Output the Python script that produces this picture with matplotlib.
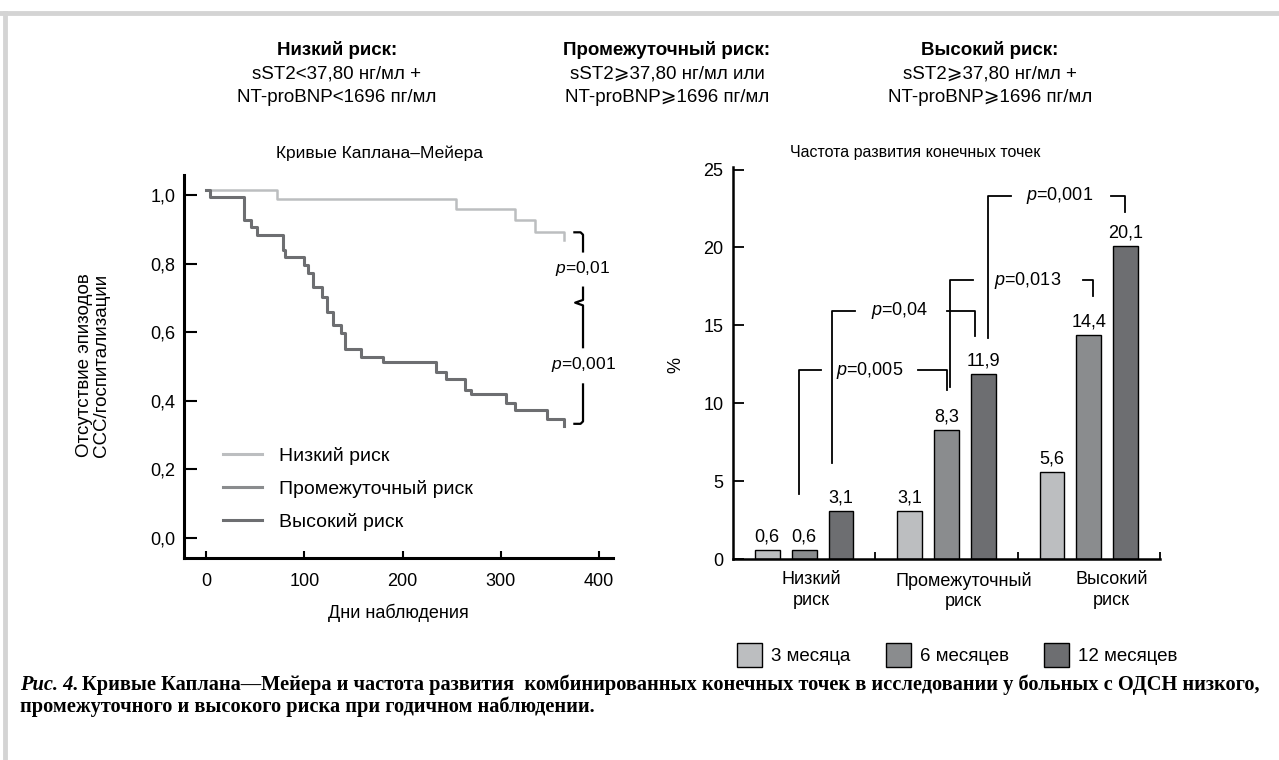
import numpy as np
import matplotlib
matplotlib.use('Agg')
import matplotlib.pyplot as plt
from matplotlib.lines import Line2D

plt.rcParams['font.family'] = ['Liberation Sans', 'DejaVu Sans']
plt.rcParams['mathtext.fontset'] = 'custom'
plt.rcParams['mathtext.it'] = 'Liberation Sans:italic'
plt.rcParams['mathtext.rm'] = 'Liberation Sans'

# Kaplan-Meier curves (days, survival)
low_days = [0, 72, 254, 314, 335, 364]
low_surv = [1.015, 0.988, 0.958, 0.927, 0.893, 0.869]
high_days = [0, 4, 39, 46, 52, 78, 80, 100, 104, 109, 118, 123, 129, 137, 141,
             158, 180, 234, 244, 263, 270, 305, 314, 347, 364]
high_surv = [1.015, 0.995, 0.927, 0.906, 0.882, 0.840, 0.818, 0.796, 0.772,
             0.731, 0.702, 0.658, 0.621, 0.599, 0.551, 0.529, 0.513, 0.483,
             0.464, 0.432, 0.420, 0.393, 0.372, 0.348, 0.327]
km_labels = ['Низкий риск', 'Промежуточный риск', 'Высокий риск']

# endpoint frequency, %
groups = ['Низкий\nриск', 'Промежуточный\nриск', 'Высокий\nриск']
periods = ['3 месяца', '6 месяцев', '12 месяцев']
m3 = [0.6, 3.1, 5.6]
m6 = [0.6, 8.3, 14.4]
m12 = [3.1, 11.9, 20.1]

# p-value brackets on the bar chart
br_text = ['0,005', '0,04', '0,013', '0,001']
br_x0 = [-0.036, 0.197, 1.024, 1.292]
br_y0 = [4.17, 6.14, 11.06, 14.17]
br_top = [12.1, 15.94, 17.9, 23.3]
br_x1 = [1.003, 1.2, 2.027, 2.255]
br_y1 = [10.85, 14.33, 16.88, 22.29]
br_tx = [0.458, 0.675, 1.572, 1.794]
br_g0 = [0.115, 0.36, 1.187, 1.456]
br_g1 = [0.80, 1.0, 1.96, 2.155]

c_low = '#bcbec0'
c_mid = '#8a8c8e'
c_high = '#6d6e71'

W, H = 1279, 760
fig = plt.figure(figsize=(12.79, 7.6), dpi=100)

# page frame
fig.add_artist(Line2D([0, 1], [1 - 13 / H, 1 - 13 / H], color='#d4d4d4', lw=3.5))
fig.add_artist(Line2D([5 / W, 5 / W], [0, 1 - 13 / H], color='#d4d4d4', lw=3.5))

# header
cols = [337, 667, 990]
heads = ['Низкий риск:', 'Промежуточный риск:', 'Высокий риск:']
line2 = ['sST2<37,80 нг/мл +', 'sST2⩾37,80 нг/мл или', 'sST2⩾37,80 нг/мл +']
line3 = ['NT-proBNP<1696 пг/мл', 'NT-proBNP⩾1696 пг/мл', 'NT-proBNP⩾1696 пг/мл']
for cx, a, b, c in zip(cols, heads, line2, line3):
    fig.text(cx / W, 1 - 50 / H, a, ha='center', va='center', fontsize=13.5, fontweight='bold')
    fig.text(cx / W, 1 - 74 / H, b, ha='center', va='center', fontsize=13.5)
    fig.text(cx / W, 1 - 97 / H, c, ha='center', va='center', fontsize=13.5)

# ---- Kaplan-Meier
ax = fig.add_axes([184 / W, (H - 558) / H, 429 / W, 383 / H])
ax.plot(low_days, low_surv, drawstyle='steps-post', color=c_low, lw=1.8)
ax.plot(high_days, high_surv, drawstyle='steps-post', color=c_high, lw=2.2)
ax.set_xlim(-22.4, 414)
ax.set_ylim(-0.058, 1.058)
ax.set_xticks([0, 100, 200, 300, 400])
ax.set_yticks([0, 0.2, 0.4, 0.6, 0.8, 1.0])
ax.set_yticklabels(['0,0', '0,2', '0,4', '0,6', '0,8', '1,0'])
for s in ['top', 'right']:
    ax.spines[s].set_visible(False)
for s in ['left', 'bottom']:
    ax.spines[s].set_linewidth(2.2)
ax.tick_params(axis='y', direction='in', length=9, width=1.5, pad=6, labelsize=13)
ax.tick_params(axis='x', direction='in', length=5, width=1.5, pad=11, labelsize=13)
ax.set_xlabel('Дни наблюдения', fontsize=13, labelpad=10)
fig.text(380 / W, 1 - 153 / H, 'Кривые Каплана–Мейера', ha='center', va='center', fontsize=12.5)
fig.text(93 / W, 1 - 365 / H, 'Отсутствие эпизодов\nССС/госпитализации', rotation=90,
         ha='center', va='center', fontsize=13.5, multialignment='center', linespacing=1.0)

handles = [Line2D([], [], color=c_low, lw=2.2),
           Line2D([], [], color=c_mid, lw=2.2),
           Line2D([], [], color=c_high, lw=2.2)]
ax.legend(handles, km_labels, loc='center left', bbox_to_anchor=(223 / W, 1 - 489 / H),
          bbox_transform=fig.transFigure, frameon=False, fontsize=14, borderpad=0,
          borderaxespad=0, handlelength=2.0, handletextpad=0.88, labelspacing=0.78)

# brackets with p values
bx, tip = 383.5, 375.5
kw = dict(color='black', lw=1.6, clip_on=False, solid_capstyle='butt')
ax.plot([373.6, 381, bx, bx], [0.891, 0.891, 0.884, 0.832], **kw)
ax.plot([bx, bx, tip, bx, bx], [0.733, 0.694, 0.686, 0.678, 0.553], **kw)
ax.plot([bx, bx, 381, 373.6], [0.451, 0.340, 0.333, 0.333], **kw)
ax.text(bx, 0.786, '$p$=0,01', ha='center', va='center', fontsize=12.5)
ax.text(bx, 0.505, '$p$=0,001', ha='center', va='center', fontsize=12.5)

# ---- bars
bx_ax = fig.add_axes([733 / W, (H - 559) / H, 427 / W, (559 - 166.7) / H])
x = np.arange(len(groups))
off, bw = 0.259, 0.175
for vals, dx, col, lab in zip([m3, m6, m12], [-off, 0, off], [c_low, c_mid, c_high], periods):
    bars = bx_ax.bar(x + dx, vals, bw, color=col, edgecolor='black', lw=1.0, label=lab)
    for r, v in zip(bars, vals):
        bx_ax.annotate(('%.1f' % v).replace('.', ','), (r.get_x() + bw / 2, v),
                       xytext=(0, 3), textcoords='offset points', ha='center', va='bottom', fontsize=13)
bx_ax.set_xlim(-0.5, 2.5)
bx_ax.set_ylim(0, 25.18)
bx_ax.set_yticks([0, 5, 10, 15, 20, 25])
bx_ax.set_xticks([0.05, 1.12, 2.16])
bx_ax.set_xticklabels(groups, linespacing=1.3)
bx_ax.set_xticks([0.5, 1.5, 2.5], minor=True)
for s in ['top', 'right']:
    bx_ax.spines[s].set_visible(False)
for s in ['left', 'bottom']:
    bx_ax.spines[s].set_linewidth(1.8)
bx_ax.tick_params(axis='y', direction='in', length=8, width=1.3, pad=7, labelsize=13)
bx_ax.tick_params(axis='x', which='major', length=0, pad=9, labelsize=13)
bx_ax.tick_params(axis='x', which='minor', direction='in', length=5, width=1.3)
fig.text(915 / W, 1 - 153 / H, 'Частота развития конечных точек', ha='center', va='center',
         fontsize=11.5)
fig.text(676 / W, 1 - 365 / H, '%', rotation=90, ha='center', va='center', fontsize=13)

for t, x0, y0, top, x1, y1, tx, g0, g1 in zip(br_text, br_x0, br_y0, br_top, br_x1,
                                              br_y1, br_tx, br_g0, br_g1):
    bx_ax.plot([x0, x0, g0], [y0, top, top], color='black', lw=1.3)
    bx_ax.plot([g1, x1, x1], [top, top, y1], color='black', lw=1.3)
    bx_ax.text(tx, top, '$p$=' + t, ha='center', va='center', fontsize=13)

bx_ax.legend(loc='center left', bbox_to_anchor=(737 / W, 1 - 655 / H),
             bbox_transform=fig.transFigure, ncol=3, frameon=False, fontsize=13.5,
             borderpad=0, borderaxespad=0, handlelength=1.35, handleheight=1.55,
             handletextpad=0.45, columnspacing=1.9)

# caption
cap_kw = dict(family='Liberation Serif', fontsize=14.7, fontweight='bold', va='center')
t1 = fig.text(20 / W, 1 - 685 / H, 'Рис. 4.', fontstyle='italic', **cap_kw)
fig.canvas.draw()
ext = t1.get_window_extent()
fig.text((ext.x1 + 4) / W, 1 - 685 / H,
         'Кривые Каплана—Мейера и частота развития  комбинированных конечных точек в исследовании у больных с ОДСН низкого,',
         **cap_kw)
fig.text(20 / W, 1 - 707 / H, 'промежуточного и высокого риска при годичном наблюдении.', **cap_kw)

fig.savefig('out.png', dpi=100)
